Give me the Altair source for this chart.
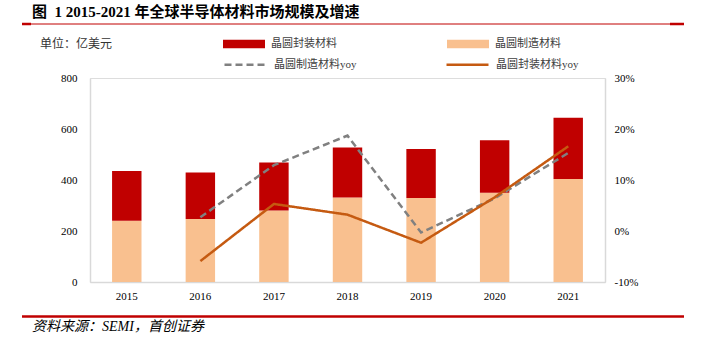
import altair as alt
import pandas as pd

# ---------------- data ----------------
years = ["2015", "2016", "2017", "2018", "2019", "2020", "2021"]
fab = [240, 247, 280, 331, 329, 350, 404]        # 晶圆制造材料 (亿美元)
pkg = [195, 182, 189, 196, 193, 206, 240]        # 晶圆封装材料 (亿美元)
yoy_years = years[1:]
fab_yoy = [2.7, 12.9, 18.7, -0.3, 6.4, 15.3]     # %
pkg_yoy = [-5.9, 5.3, 3.2, -2.3, 6.6, 16.6]      # %

S_PKG = "晶圆封装材料"
S_FAB = "晶圆制造材料"
L_FAB = "晶圆制造材料yoy"
L_PKG = "晶圆封装材料yoy"
TITLE = "图\u00a0\u00a01 2015-2021\u00a0年全球半导体材料市场规模及增速"
UNIT = "单位：亿美元"
SOURCE = "资料来源：SEMI，首创证券"

bars_df = pd.DataFrame({
    "year": years * 2,
    "series": [S_FAB] * len(years) + [S_PKG] * len(years),
    "value": fab + pkg,
    "order": [0] * len(years) + [1] * len(years),
})
lines_df = pd.DataFrame({
    "year": yoy_years * 2,
    "series": [L_FAB] * len(yoy_years) + [L_PKG] * len(yoy_years),
    "value": fab_yoy + pkg_yoy,
})

SERIF = "Liberation Serif, Noto Sans CJK SC"
AXIS_GRAY = "#D9D9D9"

x_scale = alt.Scale(paddingInner=0.6, paddingOuter=0.3)
x_axis = alt.Axis(title=None, labelAngle=0, ticks=False, domainColor=AXIS_GRAY,
                  domainWidth=1.5, labelFont="Liberation Serif", labelFontSize=11,
                  labelColor="#000000", labelPadding=8, grid=False)

bars = alt.Chart(bars_df).mark_bar().encode(
    x=alt.X("year:N", sort=years, scale=x_scale, axis=x_axis),
    y=alt.Y("value:Q", stack="zero",
            scale=alt.Scale(domain=[0, 800], nice=False),
            axis=alt.Axis(title=None, values=[0, 200, 400, 600, 800], ticks=False,
                          grid=False, domainColor=AXIS_GRAY, domainWidth=1.5,
                          labelFont="Liberation Serif", labelFontSize=11,
                          labelColor="#000000", labelPadding=13)),
    fill=alt.Fill("series:N",
                  scale=alt.Scale(domain=[S_PKG, S_FAB], range=["#C00000", "#F9C08F"]),
                  legend=alt.Legend(title=None, orient="none", legendX=133, legendY=-55,
                                    direction="horizontal",
                                    symbolType="M-1,-0.2L1,-0.2L1,0.2L-1,0.2Z",
                                    symbolSize=1764, symbolStrokeWidth=0,
                                    labelFont=SERIF, labelFontSize=11,
                                    labelColor="#404040", labelOffset=6,
                                    columnPadding=110)),
    order=alt.Order("order:Q"),
)

line_legend = alt.Legend(title=None, orient="none", legendX=133, legendY=-36,
                         direction="horizontal", symbolType="stroke",
                         symbolSize=1764, symbolStrokeWidth=2.5,
                         labelFont=SERIF, labelFontSize=11, labelColor="#404040",
                         labelOffset=6, columnPadding=84)

lines = alt.Chart(lines_df).mark_line(strokeWidth=2.5).encode(
    x=alt.X("year:N", sort=years, scale=x_scale, axis=x_axis),
    y=alt.Y("value:Q", scale=alt.Scale(domain=[-10, 30], nice=False),
            axis=alt.Axis(title=None, orient="right", values=[-10, 0, 10, 20, 30],
                          ticks=False, grid=False, domainColor=AXIS_GRAY, domainWidth=1.5,
                          labelFont="Liberation Serif", labelFontSize=11,
                          labelColor="#000000", labelPadding=9,
                          labelExpr="datum.value + '%'")),
    stroke=alt.Stroke("series:N",
                      scale=alt.Scale(domain=[L_FAB, L_PKG], range=["#808080", "#C55A11"]),
                      legend=line_legend),
    strokeDash=alt.StrokeDash("series:N",
                              scale=alt.Scale(domain=[L_FAB, L_PKG], range=[[7, 4], [1, 0]]),
                              legend=line_legend),
)

title_t = alt.Chart(pd.DataFrame({"t": [TITLE]})).mark_text(
    align="left", baseline="middle", fontSize=15, fontWeight="bold",
    font=SERIF, color="#000000").encode(
    x=alt.value(-58), y=alt.value(-66), text="t:N")

unit_t = alt.Chart(pd.DataFrame({"t": [UNIT]})).mark_text(
    align="left", baseline="middle", fontSize=12, font=SERIF,
    color="#333333").encode(x=alt.value(-50), y=alt.value(-34), text="t:N")

source_t = alt.Chart(pd.DataFrame({"t": [SOURCE]})).mark_text(
    align="left", baseline="middle", fontSize=14, font=SERIF, fontStyle="italic",
    color="#000000").encode(x=alt.value(-58), y=alt.value(249), text="t:N")

top_rule = alt.Chart(pd.DataFrame({"a": [0]})).mark_rule(color="#C00000", strokeWidth=1).encode(
    x=alt.value(-68), x2=alt.value(594), y=alt.value(-54))
top_end_l = alt.Chart(pd.DataFrame({"a": [0]})).mark_rule(color="#C00000", strokeWidth=2.5).encode(
    x=alt.value(-68), x2=alt.value(-59), y=alt.value(-54))
top_end_r = alt.Chart(pd.DataFrame({"a": [0]})).mark_rule(color="#C00000", strokeWidth=2.5).encode(
    x=alt.value(580), x2=alt.value(594), y=alt.value(-54))
bottom_rule = alt.Chart(pd.DataFrame({"a": [0]})).mark_rule(color="#C00000", strokeWidth=2.5).encode(
    x=alt.value(-68), x2=alt.value(594), y=alt.value(238.5))

chart = alt.layer(
    bars, lines, title_t, unit_t, source_t, top_rule, top_end_l, top_end_r, bottom_rule
).resolve_scale(y="independent").properties(
    width=515, height=204,
    padding={"left": 90, "top": 78, "right": 103, "bottom": 72},
    autosize=alt.AutoSizeParams(type="none"),
).configure_view(stroke=None).configure(background="white")

chart.save("out.html", embed_options={"renderer": "svg", "actions": False})
